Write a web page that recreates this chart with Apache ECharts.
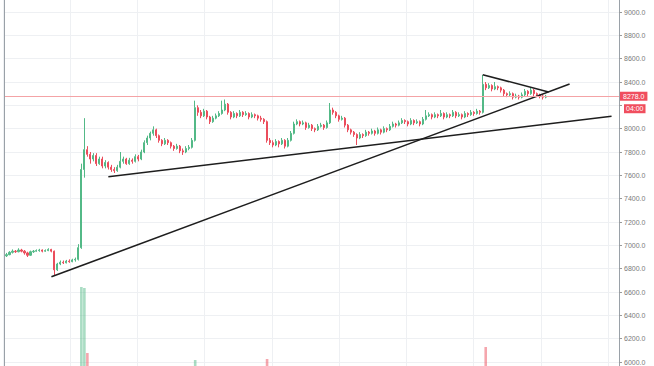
<!DOCTYPE html>
<html><head><meta charset="utf-8">
<script src="https://cdn.jsdelivr.net/npm/echarts@6/dist/echarts.min.js"></script>
<style>html,body{margin:0;padding:0;background:#fff}#c{width:654px;height:366px}</style>
</head><body><div id="c"></div>
<script>
// [open, close, low, high]
const candles = [
[6910,6920,6900,6935],[6920,6940,6915,6950],[6940,6950,6930,6965],[6950,6945,6935,6960],[6945,6960,6940,6975],
[6960,6950,6940,6970],[6950,6935,6920,6960],[6935,6915,6900,6945],[6915,6945,6910,6955],[6945,6950,6935,6960],
[6950,6955,6945,6965],[6955,6960,6945,6970],[6960,6950,6940,6965],[6950,6955,6945,6965],[6955,6965,6950,6975],
[6965,6950,6940,6970],[6950,6790,6740,6955],[6790,6840,6780,6850],[6840,6855,6830,6870],[6855,6850,6840,6870],
[6850,6865,6845,6875],[6865,6860,6850,6880],[6860,6875,6855,6885],[6875,6880,6860,6895],[6880,6980,6870,7010],
[6980,7650,6970,7700],[7650,7820,7580,8090],[7820,7780,7760,7850],[7780,7740,7700,7800],[7740,7770,7720,7790],
[7770,7700,7680,7790],[7700,7740,7690,7760],[7740,7680,7660,7760],[7680,7710,7660,7730],[7710,7670,7650,7720],
[7670,7650,7630,7690],[7650,7640,7620,7670],[7640,7670,7630,7690],[7670,7720,7660,7800],[7720,7740,7700,7760],
[7740,7700,7690,7750],[7700,7730,7690,7750],[7730,7720,7700,7745],[7720,7760,7710,7780],[7760,7740,7720,7775],
[7740,7800,7730,7820],[7800,7880,7790,7900],[7880,7920,7860,7940],[7920,7960,7900,7975],[7960,7990,7940,8020],
[7990,7940,7920,8000],[7940,7900,7880,7950],[7900,7870,7850,7910],[7870,7900,7860,7920],[7900,7880,7860,7910],
[7880,7850,7830,7890],[7850,7830,7810,7860],[7830,7850,7820,7870],[7850,7810,7790,7860],[7810,7800,7775,7830],
[7800,7830,7790,7850],[7830,7840,7815,7860],[7840,7900,7830,7920],[7900,8180,7890,8240],[8180,8140,8110,8200],
[8140,8110,8090,8160],[8110,8150,8100,8170],[8150,8100,8080,8160],[8100,8060,8040,8110],[8060,8090,8050,8110],
[8090,8110,8080,8130],[8110,8130,8100,8150],[8130,8160,8120,8240],[8160,8210,8150,8250],[8210,8140,8120,8220],
[8140,8100,8080,8150],[8100,8130,8090,8150],[8130,8110,8090,8140],[8110,8140,8100,8160],[8140,8120,8100,8150],
[8120,8130,8110,8150],[8130,8100,8080,8140],[8100,8120,8090,8140],[8120,8110,8090,8130],[8110,8090,8070,8120],
[8090,8080,8060,8110],[8080,8060,8040,8090],[8060,7900,7880,8070],[7900,7880,7860,7920],[7880,7860,7840,7900],
[7860,7890,7850,7910],[7890,7870,7840,7900],[7870,7900,7860,7920],[7900,7850,7830,7910],[7850,7900,7840,7920],
[7900,7960,7890,7980],[7960,8040,7950,8060],[8040,8060,8030,8080],[8060,8040,8020,8070],[8040,8050,8030,8070],
[8050,8010,7990,8060],[8010,8030,8000,8050],[8030,8000,7980,8040],[8000,7990,7970,8010],[7990,8020,7980,8040],
[8020,8030,8010,8050],[8030,8010,7990,8040],[8010,8050,8000,8070],[8050,8160,8040,8220],[8160,8140,8120,8180],
[8140,8110,8090,8150],[8110,8080,8060,8120],[8080,8090,8070,8110],[8090,8030,8010,8100],[8030,7990,7970,8040],
[7990,7970,7950,8000],[7970,7950,7930,7980],[7950,7920,7860,7960],[7920,7950,7910,7970],[7950,7940,7920,7960],
[7940,7970,7930,7990],[7970,7960,7940,7980],[7960,7980,7950,8000],[7980,7960,7940,7990],[7960,7990,7950,8010],
[7990,7970,7950,8000],[7970,8000,7960,8020],[8000,7990,7970,8010],[7990,8020,7980,8040],[8020,8040,8010,8060],
[8040,8030,8010,8050],[8030,8050,8020,8070],[8050,8070,8040,8090],[8070,8060,8040,8080],[8060,8040,8020,8070],
[8040,8070,8030,8090],[8070,8050,8030,8080],[8050,8060,8040,8080],[8060,8040,8020,8070],[8040,8080,8030,8100],
[8080,8110,8070,8160],[8110,8120,8100,8140],[8120,8100,8080,8130],[8100,8120,8090,8140],[8120,8110,8090,8130],
[8110,8130,8100,8160],[8130,8100,8080,8140],[8100,8120,8090,8140],[8120,8110,8090,8130],[8110,8140,8100,8160],
[8140,8110,8090,8150],[8110,8120,8100,8140],[8120,8100,8080,8130],[8100,8130,8090,8150],[8130,8120,8100,8140],
[8120,8140,8110,8160],[8140,8130,8110,8150],[8130,8150,8120,8170],[8150,8140,8120,8160],[8140,8380,8130,8460],
[8380,8350,8330,8400],[8350,8370,8340,8390],[8370,8340,8320,8380],[8340,8360,8330,8400],[8360,8350,8330,8370],
[8350,8330,8310,8360],[8330,8300,8280,8340],[8300,8290,8270,8310],[8290,8300,8280,8320],[8300,8270,8250,8310],
[8270,8280,8260,8300],[8280,8270,8250,8290],[8270,8290,8260,8310],[8290,8320,8280,8340],[8320,8300,8280,8330],
[8300,8330,8290,8350],[8330,8300,8280,8340],[8300,8290,8270,8310],[8290,8280,8260,8300],[8280,8270,8250,8290],
[8270,8278,8260,8290]
];
const volumes = [
4,5,3,6,4,5,3,4,6,5,4,3,5,4,6,5,12,8,6,5,4,6,5,4,10,
99,98,33,12,10,9,8,10,9,8,7,8,9,10,8,7,8,9,8,7,9,11,10,9,8,
9,8,7,8,7,8,9,7,8,9,8,9,10,26,12,10,9,8,9,8,7,8,9,10,9,
8,7,8,7,8,7,8,7,8,9,8,9,27,12,10,9,8,9,8,9,10,11,9,8,7,
8,7,8,7,8,7,9,8,14,11,9,8,7,8,9,8,7,8,9,7,8,7,8,7,8,
7,8,7,8,9,8,7,8,9,8,7,8,7,8,9,8,7,8,9,10,8,7,8,7,8,
7,8,7,8,7,8,7,8,7,9,39,14,10,9,8,9,8,9,8,7,8,7,8,7,8,
7,8,9,8,7,8
];
const categoryCount = 205;
const yMin = 6000, yMax = 9000, yStep = 200;
const lastPrice = 8278.0;
const countdownText = '04:00';
// trend lines: [[categoryIndex, price], [categoryIndex, price]]
const trendLines = [
  [[15, 6730], [188, 8382]],
  [[34, 7588], [202, 8106]],
  [[159, 8463], [181, 8315]]
];

const cats = [];
for (let i = 0; i < categoryCount; i++) cats.push(String(i));
const UP = '#53b987', DOWN = '#eb4d5c';

const chart = echarts.init(document.getElementById('c'), null, {renderer: 'svg'});
const gridColor = '#eef0f3';
const tl = trendLines.map(l => [
  {coord: l[0], lineStyle: {color: '#1e1e1e', width: 1.6, type: 'solid'}},
  {coord: l[1]}
]);
chart.setOption({
  animation: false,
  backgroundColor: '#fff',
  grid: [
    {left: 5, right: 35, top: 12, bottom: 4},
    {left: 5, right: 35, top: 266, bottom: 0},
    {left: 3, right: 35, top: 0, bottom: 0}
  ],
  xAxis: [
    {type: 'category', gridIndex: 0, data: cats, show: false, boundaryGap: true},
    {type: 'category', gridIndex: 1, data: cats, show: false, boundaryGap: true},
    {type: 'value', gridIndex: 2, min: 0, max: 9.161, interval: 1,
     axisLine: {show: false}, axisTick: {show: false}, axisLabel: {show: false},
     splitLine: {show: true, lineStyle: {color: gridColor, width: 1}}}
  ],
  yAxis: [
    {type: 'value', gridIndex: 0, position: 'right', min: yMin, max: yMax, interval: yStep,
     axisLine: {show: false},
     axisTick: {show: true, length: 3, lineStyle: {color: '#9a9a9a'}},
     axisLabel: {show: true, margin: 5, fontSize: 7, color: '#7a7a7a', fontFamily: 'Arial, Liberation Sans, sans-serif',
       formatter: v => (v === 8200 ? '' : v.toFixed(1))},
     splitLine: {show: true, lineStyle: {color: gridColor, width: 1}}},
    {type: 'value', gridIndex: 1, min: 20, max: 120, show: false},
    {type: 'value', gridIndex: 2, position: 'left', offset: -1, min: 0, max: 1,
     axisLine: {show: true, lineStyle: {color: '#9aa1a8', width: 1}},
     axisTick: {show: false}, axisLabel: {show: false}, splitLine: {show: false}},
    {type: 'value', gridIndex: 2, position: 'right', min: 0, max: 1,
     axisLine: {show: true, lineStyle: {color: '#9aa1a8', width: 1}},
     axisTick: {show: false}, axisLabel: {show: false}, splitLine: {show: false}}
  ],
  series: [
    {
      type: 'candlestick', xAxisIndex: 0, yAxisIndex: 0,
      data: candles,
      barWidth: 1.6,
      itemStyle: {color: UP, color0: DOWN, borderColor: UP, borderColor0: DOWN, borderWidth: 1},
      markLine: {
        silent: true, symbol: ['none', 'none'], animation: false,
        label: {show: false},
        data: [
          ...tl,
          {yAxis: lastPrice, lineStyle: {color: '#f4a3a6', width: 1, type: 'solid'},
           label: {show: true, position: 'end', distance: 1, formatter: lastPrice.toFixed(1),
             color: '#fff', fontSize: 7, fontFamily: 'Arial, Liberation Sans, sans-serif',
             backgroundColor: '#f04e5e', padding: [1, 3, 1, 3], align: 'left', verticalAlign: 'middle'}},
          {yAxis: lastPrice, lineStyle: {color: '#f4a3a6', width: 1, type: 'solid'},
           label: {show: true, position: 'end', distance: 5, formatter: '{s| }\n{b|' + countdownText + '}',
             align: 'left', verticalAlign: 'top',
             rich: {
               s: {fontSize: 6, lineHeight: 8, height: 8},
               b: {color: '#fff', fontSize: 7, fontFamily: 'Arial, Liberation Sans, sans-serif',
                   backgroundColor: '#f04e5e', padding: [1, 2, 1, 2], lineHeight: 9}
             }}}
        ]
      }
    },
    {
      type: 'bar', xAxisIndex: 1, yAxisIndex: 1,
      data: volumes,
      barWidth: 2.6,
      clip: true,
      itemStyle: {color: p => candles[p.dataIndex][1] >= candles[p.dataIndex][0] ? 'rgba(83,185,135,0.5)' : 'rgba(235,77,92,0.5)'}
    }
  ]
});
</script></body></html>
